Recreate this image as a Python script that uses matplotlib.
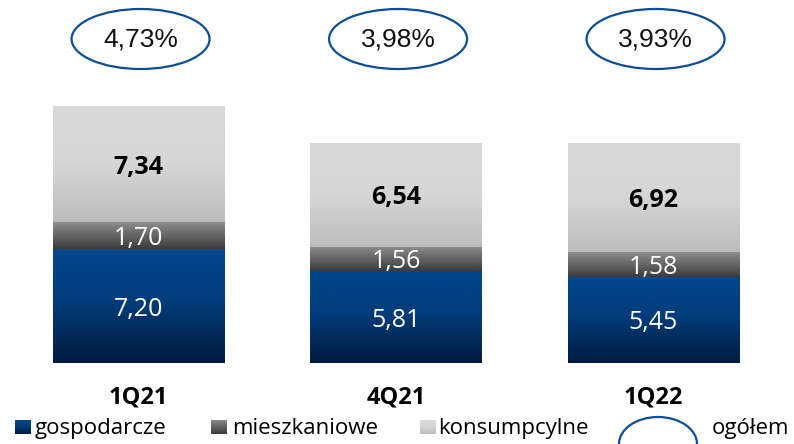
import numpy as np
import matplotlib
matplotlib.use("Agg")
import matplotlib.pyplot as plt
from matplotlib.patches import Ellipse, Rectangle
from matplotlib.colors import LinearSegmentedColormap

# data
quarters = ["1Q21", "4Q21", "1Q22"]
gospodarcze = [7.20, 5.81, 5.45]
mieszkaniowe = [1.70, 1.56, 1.58]
konsumpcyjne = [7.34, 6.54, 6.92]
ogolem = ["4,73%", "3,98%", "3,93%"]
series_names = ["gospodarcze", "mieszkaniowe", "konsumpcylne"]

W, H = 794, 444
PX_PER_UNIT = 15.8
BASE_PX = 363          # pixel row of the zero line
STEP_PX = 257.5        # distance between bar centres
X0_PX = 138.5          # centre of first bar

cmaps = [
    LinearSegmentedColormap.from_list("blue", [(0, "#011b3d"), (0.55, "#023d7c"), (1, "#02478c")]),
    LinearSegmentedColormap.from_list("gray", [(0, "#3b3b3b"), (1, "#8e8e8e")]),
    LinearSegmentedColormap.from_list("light", [(0, "#bcbcbc"), (0.5, "#d6d6d6"), (1, "#d9d9d9")]),
]
txt_col = ["white", "white", "black"]
txt_wt = ["medium", "medium", "bold"]
leg_col = ["#0b3670", "#666666", "#d2d2d2"]

plt.rcParams["font.family"] = ["Open Sans", "DejaVu Sans"]

fig = plt.figure(figsize=(W / 100, H / 100), dpi=100, facecolor="white")
ax = fig.add_axes([0, 1 - BASE_PX / H, 1, BASE_PX / H])
xlim = (-X0_PX / STEP_PX, (W - X0_PX) / STEP_PX)
ylim = (0, BASE_PX / PX_PER_UNIT)

x = np.arange(len(quarters))
grad = np.linspace(0, 1, 256).reshape(-1, 1)
bottom = np.zeros(len(quarters))
for i, vals in enumerate([gospodarcze, mieszkaniowe, konsumpcyjne]):
    bars = ax.bar(x, vals, width=172 / STEP_PX, bottom=bottom, color=leg_col[i],
                  linewidth=0, zorder=1)
    for b, v in zip(bars, vals):
        im = ax.imshow(grad, cmap=cmaps[i], origin="lower", aspect="auto",
                       extent=[b.get_x(), b.get_x() + b.get_width(),
                               b.get_y(), b.get_y() + b.get_height()], zorder=2)
        im.set_clip_path(b)
        ax.text(b.get_x() + b.get_width() / 2, b.get_y() + b.get_height() / 2,
                f"{v:.2f}".replace(".", ","), ha="center", va="center_baseline",
                fontsize=18, color=txt_col[i], fontweight=txt_wt[i], zorder=3)
    bottom += np.array(vals)

# total ratio ellipses
ey = (BASE_PX - 39) / PX_PER_UNIT
for xi, t in zip(x, ogolem):
    ax.add_patch(Ellipse((xi + 0.008, ey), 138 / STEP_PX, 60 / PX_PER_UNIT,
                         facecolor="none", edgecolor="#0c4e96", lw=1.6, zorder=3))
    ax.text(xi + 0.008, ey, t, ha="center", va="center", fontsize=19,
            family="Liberation Sans", color="#111111", zorder=4)

for xi, q in zip(x, quarters):
    ax.text(xi, -(403 - BASE_PX) / BASE_PX, q, transform=ax.get_xaxis_transform(),
            ha="center", va="baseline", fontsize=17, fontweight="bold", clip_on=False)

ax.set_xlim(*xlim)
ax.set_ylim(*ylim)
ax.axis("off")

# legend drawn in pixel positions
fx = lambda p: p / W
fy = lambda p: 1 - p / H
sq_x = [15, 211, 420]
tx_x = [35, 232, 438]
for i, (sx, tx, name) in enumerate(zip(sq_x, tx_x, series_names)):
    sq = fig.add_axes([fx(sx), fy(434), 16 / W, 14 / H])
    sq.imshow(np.linspace(0, 1, 64).reshape(-1, 1), cmap=cmaps[i], origin="lower",
              aspect="auto", extent=[0, 1, 0, 1])
    sq.axis("off")
    fig.text(fx(tx), fy(434), name, ha="left", va="baseline", fontsize=16)
fig.patches.append(Ellipse((fx(658), fy(444)), 78 / W, 54 / H, transform=fig.transFigure,
                           facecolor="none", edgecolor="#0c4e96", lw=1.6))
fig.text(fx(712), fy(434), "ogółem", ha="left", va="baseline", fontsize=16)

fig.savefig("out.png", dpi=100, facecolor="white")
